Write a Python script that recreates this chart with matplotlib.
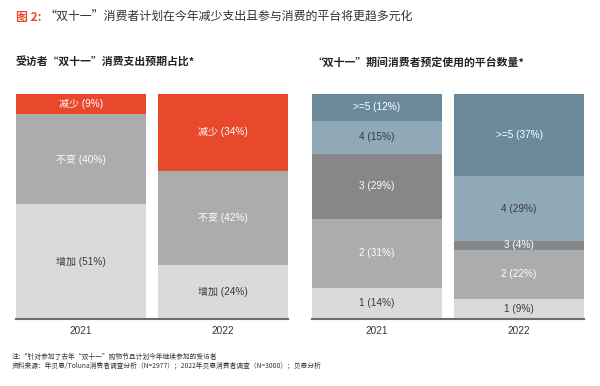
import matplotlib
matplotlib.use("Agg")
import matplotlib.pyplot as plt
import numpy as np

plt.rcParams['font.family'] = ['Noto Sans CJK SC', 'DejaVu Sans']

years = ["2021", "2022"]

# Left panel: spending expectation
left_cats = ["增加", "不变", "减少"]
left_vals = {
    "增加": [51, 24],
    "不变": [40, 42],
    "减少": [9, 34],
}
left_colors = ["#D9DADC", "#ABACAE", "#E8482C"]
left_text = ["#3a3a3a", "white", "white"]

# Right panel: number of platforms
right_cats = ["1", "2", "3", "4", ">=5"]
right_vals = {
    "1": [14, 9],
    "2": [31, 22],
    "3": [29, 4],
    "4": [15, 29],
    ">=5": [12, 37],
}
right_colors = ["#D9DADC", "#ABACAE", "#858789", "#8FA9B6", "#6A8A9C"]
right_text = ["#3a3a3a", "white", "white", "#3a3a3a", "white"]

W, H = 600, 386
fig = plt.figure(figsize=(W / 100, H / 100), dpi=100)

def px_axes(x0, x1, ytop, ybot):
    return fig.add_axes([x0 / W, (H - ybot) / H, (x1 - x0) / W, (ybot - ytop) / H])

lab_font = ['Liberation Sans', 'Noto Sans CJK SC']

def draw_panel(ax, cats, vals, colors, tcolors):
    data = np.array([vals[c] for c in cats], dtype=float)
    totals = data.sum(axis=0)
    x = np.arange(len(years))
    bw = 130 / 142
    bottom = np.zeros(len(years))
    for i, c in enumerate(cats):
        h = data[i] / totals * 100
        ax.bar(x, h, bw, bottom=bottom, color=colors[i], linewidth=0)
        for j in range(len(years)):
            ax.text(x[j], bottom[j] + h[j] / 2, f"{c} ({int(data[i][j])}%)",
                    ha='center', va='center', fontsize=7.2, color=tcolors[i],
                    family=lab_font)
        bottom += h
    ax.set_xlim(-65 / 142, 1 + 65 / 142)
    ax.set_ylim(0, 100)
    for s in ['top', 'right', 'left']:
        ax.spines[s].set_visible(False)
    ax.spines['bottom'].set_color('#6d6e70')
    ax.spines['bottom'].set_linewidth(1.5)
    ax.set_yticks([])
    ax.set_xticks(x)
    ax.set_xticklabels(years, fontsize=7.2, color='#333333', family=lab_font)
    ax.tick_params(axis='x', length=0, pad=5)

axL = px_axes(16, 288, 94, 319)
draw_panel(axL, left_cats, left_vals, left_colors, left_text)
axR = px_axes(312, 584, 94, 319)
draw_panel(axR, right_cats, right_vals, right_colors, right_text)

# Titles
t1 = fig.text(16 / W, 1 - 17 / H, "图 2:", fontsize=8.6, fontweight='bold',
              color='#E8482C', va='center', ha='left')
fig.canvas.draw()
bb = t1.get_window_extent(fig.canvas.get_renderer())
fig.text((bb.x1 + 3) / W, 1 - 17 / H,
         "“双十一”消费者计划在今年减少支出且参与消费的平台将更趋多元化",
         fontsize=8.6, color='#333333', va='center', ha='left')

fig.text(16 / W, 1 - 62 / H, "受访者“双十一”消费支出预期占比*", fontsize=7.8,
         fontweight='bold', color='#222222', va='center', ha='left')
fig.text(313 / W, 1 - 62 / H, "“双十一”期间消费者预定使用的平台数量*", fontsize=7.8,
         fontweight='bold', color='#222222', va='center', ha='left')

# Footnotes
fig.text(12 / W, 1 - 357 / H, "注：*针对参加了去年“双十一”购物节且计划今年继续参加的受访者",
         fontsize=4.85, color='#333333', va='center', ha='left')
fig.text(12 / W, 1 - 366 / H,
         "资料来源：年贝恩/Toluna消费者调查分析（N=2977）；2022年贝恩消费者调查（N=3000）；贝恩分析",
         fontsize=4.85, color='#333333', va='center', ha='left')

fig.savefig("out.png", dpi=100)
